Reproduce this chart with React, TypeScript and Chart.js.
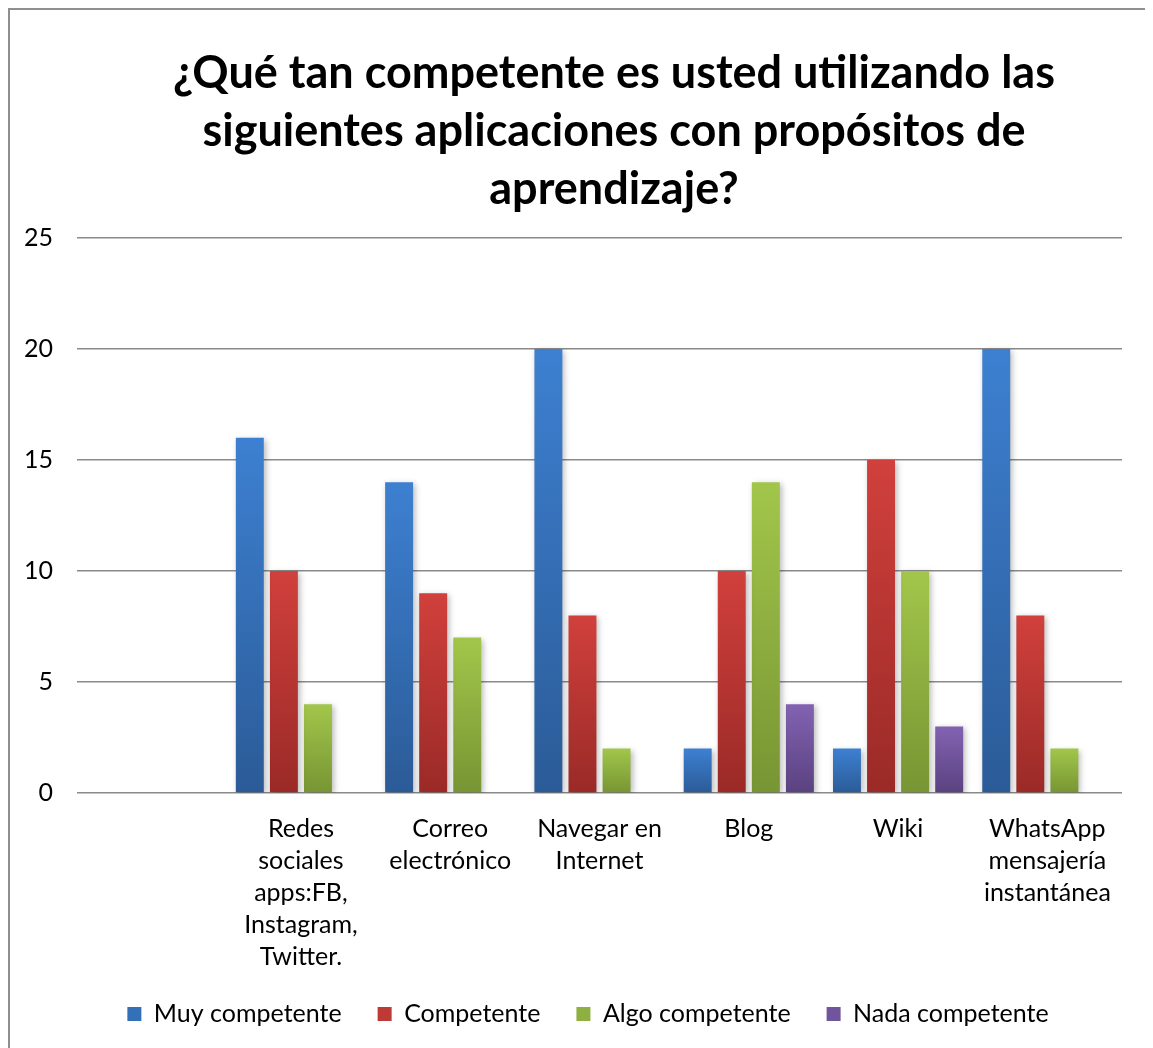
import React, { useEffect, useRef } from "react";
import { Chart, registerables } from "chart.js";

Chart.register(...registerables);

const titleLines = [
  "¿Qué tan competente es usted utilizando las",
  "siguientes aplicaciones con propósitos de",
  "aprendizaje?",
];

const categories: (string | string[])[] = [
  "",
  ["Redes", "sociales", "apps:FB,", "Instagram,", "Twitter."],
  ["Correo", "electrónico"],
  ["Navegar en", "Internet"],
  ["Blog"],
  ["Wiki"],
  ["WhatsApp", "mensajería", "instantánea"],
];

const seriesNames = ["Muy competente", "Competente", "Algo competente", "Nada competente"];

const muyCompetente = [null, 16, 14, 20, 2, 2, 20];
const competente = [null, 10, 9, 8, 10, 15, 8];
const algoCompetente = [null, 4, 7, 2, 14, 10, 2];
const nadaCompetente = [null, 0, 0, 0, 4, 3, 0];

const yTicks = [0, 5, 10, 15, 20, 25];

const palette = [
  { top: "#3d80d1", bottom: "#2b5b97", mid: "#3470b8" },
  { top: "#d1403c", bottom: "#9a2a27", mid: "#be3a36" },
  { top: "#a2c64b", bottom: "#779533", mid: "#8eb040" },
  { top: "#8262b2", bottom: "#5a4280", mid: "#70549c" },
];

const FONT = "Lato, 'Open Sans', sans-serif";

export default function App() {
  const canvasRef = useRef<HTMLCanvasElement | null>(null);

  useEffect(() => {
    const canvas = canvasRef.current;
    if (!canvas) return;

    const seriesData = [muyCompetente, competente, algoCompetente, nadaCompetente];

    const makeBg = (i: number) => (ctx: any) => {
      const chart = ctx.chart;
      const p = palette[i];
      if (ctx.type !== "data" || !chart.chartArea) return p.mid;
      const v = ctx.raw;
      if (v == null || v === 0) return p.mid;
      const y = chart.scales.y;
      const yTop = y.getPixelForValue(v);
      const yBot = y.getPixelForValue(0);
      const g = chart.ctx.createLinearGradient(0, yTop, 0, yBot);
      g.addColorStop(0, p.top);
      g.addColorStop(1, p.bottom);
      return g;
    };

    const shadowPlugin = {
      id: "barShadow",
      beforeDatasetsDraw(chart: any) {
        const c = chart.ctx;
        c.save();
        c.shadowColor = "rgba(0,0,0,0.28)";
        c.shadowBlur = 6;
        c.shadowOffsetX = 2;
        c.shadowOffsetY = 2;
      },
      afterDatasetsDraw(chart: any) {
        chart.ctx.restore();
      },
    };

    // title and legend in the reference are centred a little right of the canvas centre
    const blockShiftPlugin = {
      id: "blockShift",
      afterLayout(chart: any) {
        const t = chart.titleBlock;
        if (t) {
          t.left += 48;
          t.right += 48;
        }
        const l = chart.legend;
        if (l) {
          l.left += 22;
          l.right += 22;
        }
      },
    };

    const chart = new Chart(canvas, {
      type: "bar",
      data: {
        labels: categories,
        datasets: seriesData.map((d, i) => ({
          label: seriesNames[i],
          data: d,
          backgroundColor: makeBg(i),
          borderWidth: 0,
          categoryPercentage: 0.913,
          barPercentage: 0.82,
        })),
      },
      options: {
        animation: false,
        responsive: false,
        maintainAspectRatio: false,
        layout: { padding: { left: 0, right: 26, top: 0, bottom: 33.5 } },
        plugins: {
          title: {
            display: true,
            text: titleLines,
            color: "#000",
            font: { family: FONT, size: 45, weight: "bold", lineHeight: 58 / 45 },
            padding: { top: 34, bottom: 20 },
          },
          legend: {
            position: "bottom",
            labels: {
              color: "#000",
              font: { family: FONT, size: 25 },
              boxWidth: 14,
              boxHeight: 14,
              padding: 36,
              generateLabels: () =>
                seriesNames.map((n, i) => ({
                  text: n,
                  fillStyle: palette[i].mid,
                  strokeStyle: palette[i].mid,
                  lineWidth: 0,
                  hidden: false,
                  datasetIndex: i,
                })),
            },
          },
          tooltip: { enabled: false },
        },
        scales: {
          x: {
            grid: { display: false, drawTicks: false },
            border: { display: false },
            ticks: {
              color: "#000",
              font: { family: FONT, size: 25, lineHeight: 32 / 25 },
              padding: 20,
              maxRotation: 0,
              autoSkip: false,
            },
            afterFit: (scale: any) => {
              scale.height = 172.5;
            },
          },
          y: {
            min: 0,
            max: 25,
            grid: { color: "#8a8a8a", lineWidth: 1.5, drawTicks: false },
            border: { display: false },
            ticks: {
              color: "#000",
              font: { family: FONT, size: 25 },
              padding: 24,
              stepSize: 5,
              callback: (v: any) => (yTicks.includes(Number(v)) ? String(v) : ""),
            },
            afterFit: (scale: any) => {
              scale.width = 67;
            },
          },
        },
      },
      plugins: [shadowPlugin, blockShiftPlugin],
    });

    return () => chart.destroy();
  }, []);

  return (
    <div
      style={{
        width: 1138,
        height: 1060,
        border: "2px solid #8f8f8f",
        background: "#fff",
      }}
    >
      <canvas ref={canvasRef} width={1138} height={1060} style={{ display: "block" }} />
    </div>
  );
}
